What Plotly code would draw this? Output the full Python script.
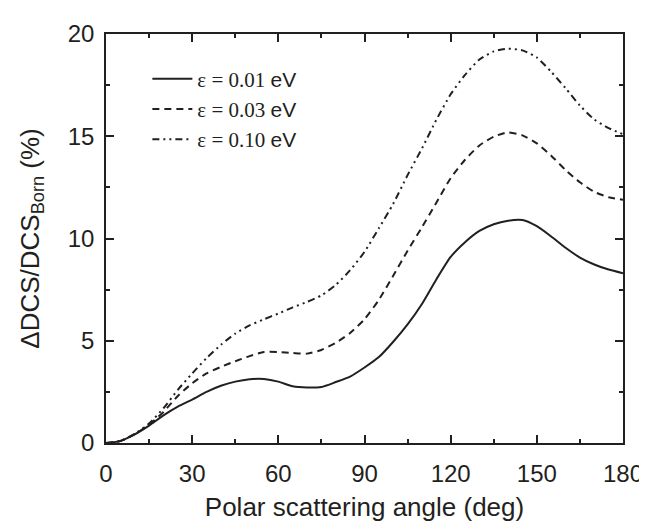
import plotly.graph_objects as go

angles = [0, 5, 10, 15, 20, 25, 30, 35, 40, 45, 50, 55, 60, 65, 70, 75, 80, 85, 90,
          95, 100, 105, 110, 115, 120, 125, 130, 135, 140, 145, 150, 155, 160, 165, 170, 175, 180]

eps_001 = [0, 0.1, 0.42, 0.85, 1.35, 1.78, 2.12, 2.5, 2.8, 3.0, 3.12, 3.13, 3.0, 2.77, 2.71, 2.74,
           2.98, 3.25, 3.69, 4.2, 4.95, 5.8, 6.8, 8.0, 9.1, 9.82, 10.37, 10.7, 10.87, 10.9, 10.6,
           10.1, 9.55, 9.07, 8.73, 8.48, 8.3]
eps_003 = [0, 0.1, 0.43, 0.9, 1.52, 2.3, 2.92, 3.4, 3.72, 4.0, 4.25, 4.45, 4.45, 4.4, 4.37, 4.55,
           4.9, 5.38, 6.05, 7.0, 8.18, 9.4, 10.55, 11.75, 12.95, 13.85, 14.55, 14.98, 15.19, 15.04,
           14.65, 14.05, 13.35, 12.75, 12.28, 12.02, 11.9]
eps_010 = [0, 0.1, 0.45, 0.95, 1.7, 2.6, 3.4, 4.15, 4.8, 5.35, 5.75, 6.05, 6.33, 6.63, 6.9, 7.22,
           7.73, 8.45, 9.35, 10.5, 11.7, 13.1, 14.4, 15.8, 17.05, 18.0, 18.75, 19.15, 19.28, 19.2,
           18.85, 18.15, 17.35, 16.5, 15.82, 15.4, 15.1]

series_names = ["0.01", "0.03", "0.10"]
series_vals = [eps_001, eps_003, eps_010]
dashes = ["solid", "7px,5px", "7px,4px,2px,4px,2px,4px"]

ink = "#231f20"
fig = go.Figure()
for name, vals, dash in zip(series_names, series_vals, dashes):
    label = ("<span style='font-family:Liberation Serif'>\u03b5 = " + name +
             "</span> <span style='font-family:Liberation Sans'>eV</span>")
    fig.add_trace(go.Scatter(x=angles, y=vals, mode="lines", name=label,
                             line=dict(color=ink, width=2, dash=dash, shape="spline", smoothing=0.6)))

axis_common = dict(
    showgrid=False, zeroline=False, showline=True, linecolor=ink, linewidth=1.5,
    mirror="ticks", ticks="inside", ticklen=8, tickwidth=1.5, tickcolor=ink,
    tickfont=dict(family="Liberation Sans", size=24, color=ink),
)

fig.update_layout(
    width=647, height=521,
    margin=dict(l=98, r=23, t=20, b=78),
    paper_bgcolor="white", plot_bgcolor="white",
    showlegend=True,
    legend=dict(x=0.08, y=0.94, xanchor="left", yanchor="top",
                bgcolor="rgba(0,0,0,0)", borderwidth=0,
                font=dict(family="Liberation Serif", size=21, color=ink),
                itemwidth=40, tracegroupgap=0),
    xaxis=dict(range=[0, 180], tickvals=[0, 30, 60, 90, 120, 150, 180],
               minor=dict(ticks="inside", ticklen=4, tickwidth=1.5, tickcolor=ink, dtick=15, tick0=0),
               ticklabelstandoff=8,
               title=dict(text="Polar scattering angle (deg)",
                          font=dict(family="Liberation Sans", size=26, color=ink), standoff=12),
               **axis_common),
    yaxis=dict(range=[0, 20], tickvals=[0, 5, 10, 15, 20],
               minor=dict(ticks="inside", ticklen=4, tickwidth=1.5, tickcolor=ink, dtick=2.5, tick0=0),
               ticklabelstandoff=5,
               title=dict(text="\u0394DCS/DCS<sub>Born</sub> (%)",
                          font=dict(family="Liberation Sans", size=26, color=ink), standoff=21),
               **axis_common),
)

fig.write_html("out.html")
